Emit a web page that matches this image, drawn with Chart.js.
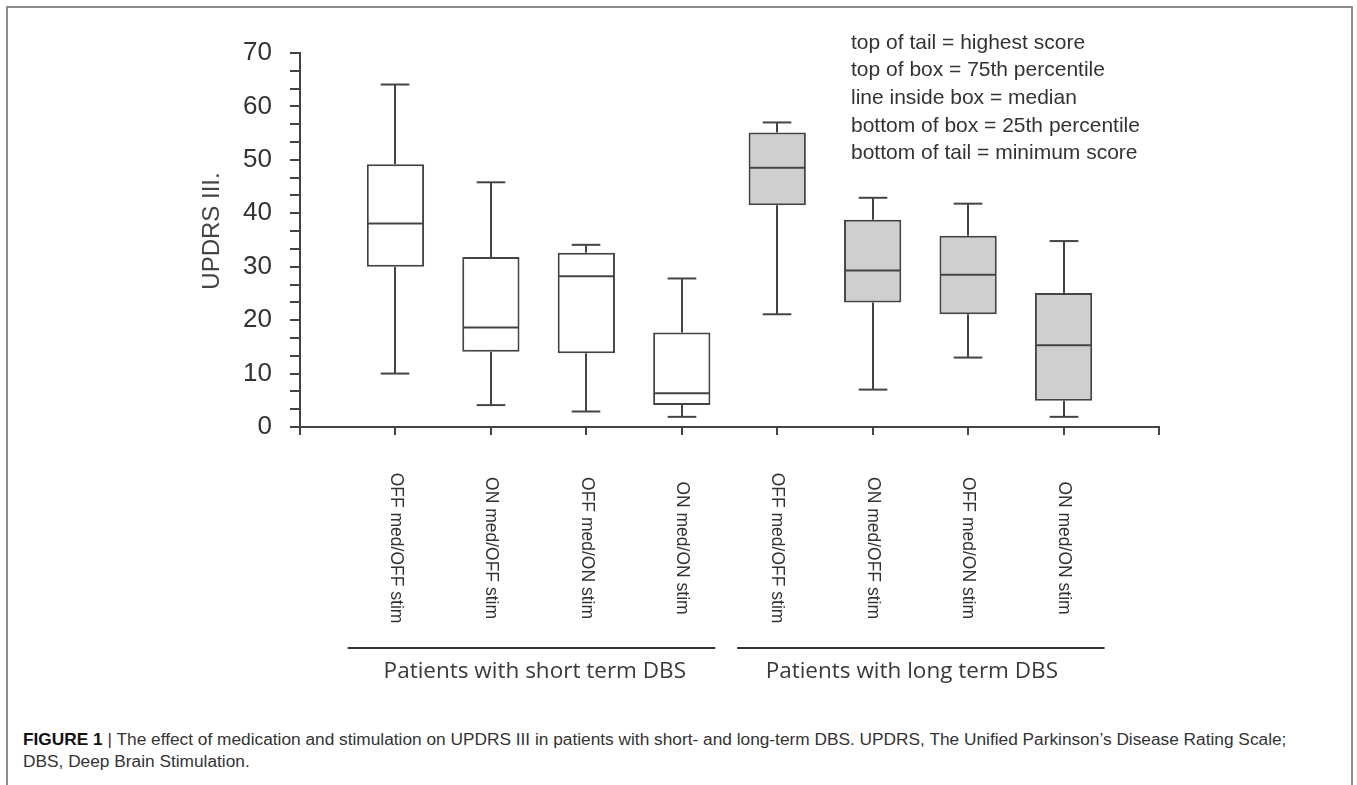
<!DOCTYPE html>
<html>
<head>
<meta charset="utf-8">
<script src="https://cdn.jsdelivr.net/npm/chart.js@4.4.1/dist/chart.umd.min.js"></script>
<style>
  html, body { margin: 0; padding: 0; background: #fff; }
  body { width: 1357px; height: 785px; position: relative; overflow: hidden; }
  #frame { position: absolute; left: 6px; top: 6px; width: 1347px; height: 820px; border: 2px solid #8c8c8c; box-sizing: border-box; }
  #chart { position: absolute; left: 0; top: 0; }
  #caption { position: absolute; left: 23px; top: 728px; width: 1285px; font-family: "Liberation Sans", Arial, sans-serif; font-size: 17.3px; line-height: 22px; color: #333; }
  #caption b { color: #111; }
</style>
</head>
<body>
<div id="frame"></div>
<canvas id="chart" width="1357" height="700"></canvas>
<div id="caption"><b>FIGURE 1</b> | The effect of medication and stimulation on UPDRS III in patients with short- and long-term DBS. UPDRS, The Unified Parkinson’s Disease Rating Scale; DBS, Deep Brain Stimulation.</div>
<script>
const categories = ['OFF med/OFF stim', 'ON med/OFF stim', 'OFF med/ON stim', 'ON med/ON stim',
                    'OFF med/OFF stim', 'ON med/OFF stim', 'OFF med/ON stim', 'ON med/ON stim'];
const minScore = [10, 4.1, 2.9, 1.9, 21.1, 7.0, 13.0, 1.9];
const q1 = [30, 14.1, 13.8, 4.1, 41.5, 23.3, 21.1, 4.9];
const median = [38.1, 18.6, 28.2, 6.3, 48.5, 29.3, 28.5, 15.3];
const q3 = [49.2, 31.8, 32.6, 17.7, 55.1, 38.8, 35.8, 25.1];
const maxScore = [64.1, 45.8, 34.1, 27.8, 57.0, 42.9, 41.8, 34.8];
const groupNames = ['Patients with short term DBS', 'Patients with long term DBS'];
const yTickLabels = ['0', '10', '20', '30', '40', '50', '60', '70'];
const yTitle = 'UPDRS III.';
const legendLines = [
    'top of tail = highest score',
    'top of box = 75th percentile',
    'line inside box = median',
    'bottom of box = 25th percentile',
    'bottom of tail = minimum score'
];

const INK = '#444';
// empty slot at each end so the axis runs one step past the outer boxes
const xLabels = ['', ...categories, ''];
const boxData = [null, ...categories.map((c, i) => [q1[i], q3[i]]), null];
const boxFill = [null, ...categories.map((c, i) => i < 4 ? '#ffffff' : '#cfcfcf'), null];

const boxPlugin = {
    id: 'boxExtras',
    afterDatasetsDraw(chart) {
        const { ctx, scales: { y } } = chart;
        const meta = chart.getDatasetMeta(0);
        const line = (x1, y1, x2, y2) => { ctx.beginPath(); ctx.moveTo(x1, y1); ctx.lineTo(x2, y2); ctx.stroke(); };
        ctx.save();
        ctx.strokeStyle = INK;
        ctx.lineWidth = 2;
        categories.forEach((c, i) => {
            const bar = meta.data[i + 1];
            const cx = Math.round(bar.x);
            const half = bar.width / 2;
            const cap = half / 2;
            const yMax = y.getPixelForValue(maxScore[i]);
            const yMin = y.getPixelForValue(minScore[i]);
            line(cx, yMax, cx, y.getPixelForValue(q3[i]));
            line(cx, y.getPixelForValue(q1[i]), cx, yMin);
            line(cx - cap, yMax, cx + cap, yMax);
            line(cx - cap, yMin, cx + cap, yMin);
            const ym = y.getPixelForValue(median[i]);
            line(cx - half + 1, ym, cx + half - 1, ym);
        });
        ctx.restore();
    },
    afterDraw(chart) {
        const { ctx, scales: { x } } = chart;
        ctx.save();
        // y title
        ctx.fillStyle = '#444';
        ctx.font = '24px "Liberation Sans", Arial, sans-serif';
        ctx.textAlign = 'center';
        ctx.textBaseline = 'middle';
        ctx.save();
        ctx.translate(212, 231);
        ctx.rotate(-Math.PI / 2);
        ctx.fillText(yTitle, 0, 0);
        ctx.restore();
        // rotated category labels, reading top to bottom
        ctx.fillStyle = '#333';
        ctx.font = '17.5px "Liberation Sans", Arial, sans-serif';
        categories.forEach((c, i) => {
            ctx.save();
            ctx.translate(x.getPixelForValue(i + 1), 548);
            ctx.rotate(Math.PI / 2);
            ctx.fillText(c, 0, 0);
            ctx.restore();
        });
        // group underlines and names
        const spans = [[0.5, 4.35], [4.58, 8.43]];
        const nameAt = [2.46, 6.41];
        ctx.strokeStyle = '#333';
        ctx.lineWidth = 2;
        ctx.font = '22.5px "Open Sans", sans-serif';
        ctx.fillStyle = '#3a3a3a';
        groupNames.forEach((g, i) => {
            const x1 = x.getPixelForValue(spans[i][0]);
            const x2 = x.getPixelForValue(spans[i][1]);
            ctx.beginPath(); ctx.moveTo(x1, 648); ctx.lineTo(x2, 648); ctx.stroke();
            ctx.fillText(g, x.getPixelForValue(nameAt[i]), 672);
        });
        // key in the top right corner
        ctx.textAlign = 'left';
        ctx.fillStyle = '#333';
        ctx.font = '21px "Liberation Sans", Arial, sans-serif';
        legendLines.forEach((t, i) => ctx.fillText(t, 851, 43 + i * 27.6));
        ctx.restore();
    }
};

new Chart(document.getElementById('chart'), {
    type: 'bar',
    data: {
        labels: xLabels,
        datasets: [{
            data: boxData,
            backgroundColor: boxFill,
            borderColor: INK,
            borderWidth: 2,
            borderSkipped: false,
            barPercentage: 0.6,
            categoryPercentage: 1
        }]
    },
    options: {
        responsive: false,
        animation: false,
        devicePixelRatio: 1,
        layout: { padding: { left: 196, right: 198, top: 53, bottom: 0 } },
        plugins: { legend: { display: false }, tooltip: { enabled: false } },
        scales: {
            x: {
                offset: false,
                afterFit: s => { s.height = 273; },
                border: { color: INK, width: 2 },
                grid: { offset: false, drawOnChartArea: false, color: INK, lineWidth: 2, tickLength: 8 },
                ticks: { display: false }
            },
            y: {
                min: 0,
                max: 70,
                afterFit: s => { s.width = 104; },
                afterBuildTicks: s => {
                    s.ticks = [];
                    for (let i = 0; i <= 21; i++) s.ticks.push({ value: i * 10 / 3 });
                },
                border: { color: INK, width: 2 },
                grid: { drawOnChartArea: false, color: INK, lineWidth: 2, tickLength: 10 },
                ticks: {
                    autoSkip: false,
                    padding: 18,
                    color: '#333',
                    font: { family: '"Liberation Sans", Arial, sans-serif', size: 26 },
                    callback: (v, idx) => idx % 3 === 0 ? yTickLabels[idx / 3] : ''
                }
            }
        }
    },
    plugins: [boxPlugin]
});
</script>
</body>
</html>
